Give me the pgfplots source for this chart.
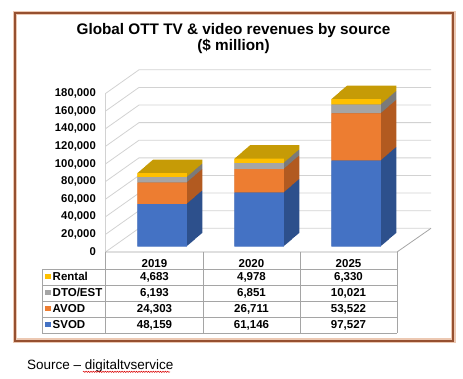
\documentclass[border=0pt]{standalone}
\usepackage{fontspec}
\setmainfont{Liberation Sans}
\usepackage{pgfplots}
\usepackage{pgfplotstable}
\pgfplotsset{compat=1.18}
\usetikzlibrary{decorations.pathmorphing}

\definecolor{svod}{RGB}{68,114,196}
\definecolor{svodd}{RGB}{45,80,140}
\definecolor{avod}{RGB}{237,125,49}
\definecolor{avodd}{RGB}{178,90,32}
\definecolor{dto}{RGB}{165,165,165}
\definecolor{dtod}{RGB}{122,122,122}
\definecolor{rent}{RGB}{255,192,0}
\definecolor{rentd}{RGB}{198,155,6}
\definecolor{gridc}{RGB}{210,210,210}
\definecolor{tablec}{RGB}{165,165,165}
\definecolor{frameb}{RGB}{150,80,48}
\definecolor{frameg}{RGB}{236,200,178}

\pgfplotstableread{
x SVOD AVOD DTO Rental
0 48159 24303 6193 4683
1 61146 26711 6851 4978
2 97527 53522 10021 6330
}\data

\pgfplotsset{barax/.style={scale only axis, width=291pt, height=158.5pt,
  xmin=-0.5, xmax=2.5, ymin=0, ymax=180000, hide axis, ybar stacked,
  bar width=49.5pt, anchor=south west, clip=false}}

\newcommand\bars[4]{%
\addplot[fill=#1,draw=none] table[x=x,y=SVOD]{\data};
\addplot[fill=#2,draw=none] table[x=x,y=AVOD]{\data};
\addplot[fill=#3,draw=none] table[x=x,y=DTO]{\data};
\addplot[fill=#4,draw=none] table[x=x,y=Rental]{\data};}

\begin{document}
\begin{tikzpicture}[x=1pt,y=1pt]
\useasboundingbox (0,0) rectangle (463,378);
% frame
\draw[line width=4.5pt, frameg] (15,37.3) rectangle (453.3,365);
\draw[line width=1.8pt, frameb] (15,37.3) rectangle (453.3,365);
% title
\node[anchor=base, inner sep=0pt, font=\bfseries\fontsize{15.3}{18}\selectfont] at (233.5,343) {Global OTT TV \& video revenues by source};
\node[anchor=base, inner sep=0pt, font=\bfseries\fontsize{15.3}{18}\selectfont] at (233.5,327) {(\$ million)};
% walls
\foreach \k in {0,...,9} {
  \pgfmathsetmacro\yf{126+\k*158.5/9}
  \pgfmathsetmacro\yb{149.7+\k*158.5/9}
  \draw[gridc, line width=0.8pt] (105.5,\yf) -- (139,\yb) -- (431,\yb);
}
\draw[gridc, line width=0.8pt] (105.5,126) -- (105.5,284.5);
\draw[tablec, line width=0.8pt] (105.5,126) -- (397,126) -- (431,149.7);
% bars: extruded copies
\foreach \i in {32,31,...,1} {
  \pgfmathsetmacro\sx{113.5+15.5*\i/32}
  \pgfmathsetmacro\sy{131.5+13.5*\i/32}
  \begin{axis}[barax, at={(\sx pt,\sy pt)}]
  \bars{svodd}{avodd}{dtod}{rentd}
  \end{axis}
}
\begin{axis}[barax, at={(113.5pt,131.5pt)}]
\bars{svod}{avod}{dto}{rent}
\end{axis}
% front axis: tick labels
\begin{axis}[scale only axis, width=291pt, height=158.5pt,
  xmin=-0.5, xmax=2.5, ymin=0, ymax=180000,
  at={(105.5pt,126pt)}, anchor=south west,
  axis line style={draw=none}, xtick=\empty,
  ytick={0,20000,40000,60000,80000,100000,120000,140000,160000,180000},
  major tick length=0pt, scaled y ticks=false,
  /pgf/number format/fixed, /pgf/number format/1000 sep={,},
  /pgf/number format/assume math mode=true,
  yticklabel style={font=\bfseries\fontsize{11.3}{13}\selectfont, inner sep=0pt, xshift=-9.5pt}]
\addplot[draw=none] coordinates {(0,0)};
\end{axis}
% table
\begin{scope}[tablec, line width=0.8pt]
\foreach \y in {109,93,77,61,45} {\draw (42,\y) -- (397,\y);}
\draw (42,109) -- (42,45);
\foreach \x in {105.5,203,300,397} {\draw (\x,126) -- (\x,45);}
\end{scope}
\begin{scope}[every node/.style={anchor=base, inner sep=0pt, font=\bfseries\fontsize{11.5}{13}\selectfont}]
\node at (154.5,111) {2019};
\node at (251.5,111) {2020};
\node at (348.5,111) {2025};
\node at (154.5,97.3) {4,683};  \node at (251.5,97.3) {4,978};  \node at (348.5,97.3) {6,330};
\node at (154.5,81.3) {6,193};  \node at (251.5,81.3) {6,851};  \node at (348.5,81.3) {10,021};
\node at (154.5,65.3) {24,303}; \node at (251.5,65.3) {26,711}; \node at (348.5,65.3) {53,522};
\node at (154.5,49.3) {48,159}; \node at (251.5,49.3) {61,146}; \node at (348.5,49.3) {97,527};
\node[anchor=base west] at (52.5,97.3) {Rental};
\node[anchor=base west] at (52.5,81.3) {DTO/EST};
\node[anchor=base west] at (52.5,65.3) {AVOD};
\node[anchor=base west] at (52.5,49.3) {SVOD};
\end{scope}
\fill[rent] (45,98.8) rectangle (50.5,104.3);
\fill[dto] (45,82.8) rectangle (50.5,88.3);
\fill[avod] (45,66.8) rectangle (50.5,72.3);
\fill[svod] (45,50.8) rectangle (50.5,56.3);
% source
\node[anchor=base west, inner sep=0pt, font=\fontsize{13.5}{16}\selectfont] at (27,9) {Source – digitaltvservice};
\draw[red!85!black, line width=0.5pt, decorate, decoration={snake, amplitude=0.6pt, segment length=2.4pt}] (83,6.2) -- (170,6.2);
\end{tikzpicture}
\end{document}
